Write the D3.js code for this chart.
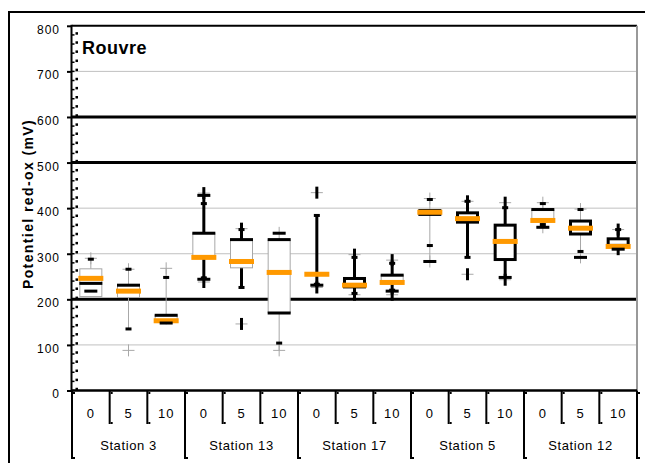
<!DOCTYPE html>
<html><head><meta charset="utf-8">
<script src="https://cdn.jsdelivr.net/npm/d3@7"></script>
<style>
html,body{margin:0;padding:0;background:#fff;}
svg{display:block;font-family:Arial,"Liberation Sans",sans-serif;}
</style></head><body>
<svg id="chart" width="645" height="463"></svg>
<script>
// ---- data ----
const stations = ["Station 3", "Station 13", "Station 17", "Station 5", "Station 12"];
const depths = ["0", "5", "10"];
const yTicks = [0, 100, 200, 300, 400, 500, 600, 700, 800];
const chartTitle = "Rouvre";
const yTitle = "Potentiel red-ox (mV)";

// one value per station × depth (station-major order)
const medians     = [246, 218, 153, 292, 283, 259, 255, 231, 237, 391, 377, 327, 373, 356, 316];
const q1          = [205, 203, 148, 289, 268, 170, 251, 224, 236, 383, 366, 284, 372, 340, 315];
const q3          = [268, 231, 165, 345, 331, 331, 259, 249, 253, 398, 393, 366, 397, 375, 336];
const whiskerLow  = [205, 135, 145, 245, 226,  88, 226, 213, 210, 283, 292, 248, 358, 292, 310];
const whiskerHigh = [290, 266, 268, 428, 355, 359, 387, 292, 286, 421, 415, 401, 410, 398, 353];

// marker series, one list per station × depth
const barMarks = [[235], [231], [165], [345], [331], [331, 170], [], [], [253], [], [], [], [397], [], []];
const outerMarks = [[218], [], [148], [428, 244], [], [345], [231], [], [218], [283], [], [248], [358], [292], [310]];
const innerMarks = [[288], [266, 135], [248], [410, 247], [353, 226], [104], [384, 233], [292, 213],
                    [279, 220], [419, 318], [415, 292], [401], [410, 364], [397, 305], [353]];
const extremes = [[290], [266, 88], [268], [433, 238], [355, 146], [88], [434, 226], [298, 210],
                  [286, 210], [421, 283], [415, 255], [412, 243], [412, 358], [398, 292], [353, 310]];

// ---- layout ----
const svg = d3.select("#chart");
const pL = 72, pR = 637, pT = 25.8, pB = 390.5;
const keys = stations.flatMap(s => depths.map(d => s + "|" + d));
const x = d3.scaleBand().domain(keys).range([pL, pR]);
const y = d3.scaleLinear().domain([0, 800]).range([pB, pT]);
const bw = x.bandwidth();
const cx = i => x(keys[i]) + bw / 2;

const heavyLines = new Set([200, 500, 600]);
const heavyWhisker = new Set([3, 4, 6, 7, 8, 10, 11, 14]);
const heavyBox = new Set([7, 9, 10, 11, 13, 14]);
const GREY = "#a8a8a8", ORANGE = "#ff9900";

// outer frame
svg.append("rect").attr("x", 9).attr("y", 12).attr("width", 700).attr("height", 500)
  .attr("fill", "#fff").attr("stroke", "#000").attr("stroke-width", 2);

// gridlines
svg.append("g").selectAll("line").data(yTicks.filter(v => v > 0 && v < 800)).join("line")
  .attr("x1", pL).attr("x2", pR)
  .attr("y1", d => y(d)).attr("y2", d => y(d))
  .attr("stroke", d => heavyLines.has(d) ? "#000" : "#c0c0c0")
  .attr("stroke-width", d => heavyLines.has(d) ? 3 : 1);

// plot frame
svg.append("line").attr("x1", pL).attr("x2", pR).attr("y1", pT).attr("y2", pT)
  .attr("stroke", "#000").attr("stroke-width", 2);
svg.append("line").attr("x1", pR).attr("x2", pR).attr("y1", pT).attr("y2", pB)
  .attr("stroke", "#999").attr("stroke-width", 2);

const idx = d3.range(keys.length);

// whiskers
svg.append("g").selectAll("line").data(idx).join("line")
  .attr("x1", cx).attr("x2", cx)
  .attr("y1", i => y(whiskerLow[i])).attr("y2", i => y(whiskerHigh[i]))
  .attr("stroke", i => heavyWhisker.has(i) ? "#000" : GREY)
  .attr("stroke-width", i => heavyWhisker.has(i) ? 3 : 1);

// extreme values as crosses
const crosses = idx.flatMap(i => extremes[i].map(v => ({ i, v })));
const cg = svg.append("g");
cg.selectAll("line.h").data(crosses).join("line").attr("class", "h")
  .attr("x1", d => cx(d.i) - 6).attr("x2", d => cx(d.i) + 6)
  .attr("y1", d => y(d.v)).attr("y2", d => y(d.v))
  .attr("stroke", GREY).attr("stroke-width", 1);
cg.selectAll("line.v").data(crosses).join("line").attr("class", "v")
  .attr("x1", d => cx(d.i)).attr("x2", d => cx(d.i))
  .attr("y1", d => y(d.v) - 6).attr("y2", d => y(d.v) + 6)
  .attr("stroke", d => heavyWhisker.has(d.i) ? "#000" : GREY)
  .attr("stroke-width", d => heavyWhisker.has(d.i) ? 3 : 1);

// boxes
svg.append("g").selectAll("rect").data(idx).join("rect")
  .attr("x", i => cx(i) - 11.5 + (heavyBox.has(i) ? 1.5 : 0.5))
  .attr("width", i => heavyBox.has(i) ? 20 : 22)
  .attr("y", i => y(q3[i]) + (heavyBox.has(i) ? 1.5 : 0.5))
  .attr("height", i => Math.max(0, y(q1[i]) - y(q3[i]) - (heavyBox.has(i) ? 3 : 1)))
  .attr("fill", "#fff")
  .attr("stroke", i => heavyBox.has(i) ? "#000" : GREY)
  .attr("stroke-width", i => heavyBox.has(i) ? 3 : 1);

// medians
svg.append("g").selectAll("rect").data(idx).join("rect")
  .attr("x", i => cx(i) - 12.5).attr("width", 25)
  .attr("y", i => y(medians[i]) - 2.5).attr("height", 5)
  .attr("fill", ORANGE);

// black dash markers
function dashes(series, w) {
  const pts = idx.flatMap(i => series[i].map(v => ({ i, v })));
  svg.append("g").selectAll("rect").data(pts).join("rect")
    .attr("x", d => cx(d.i) - w / 2).attr("width", w)
    .attr("y", d => y(d.v) - 1.5).attr("height", 3)
    .attr("fill", "#000");
}
dashes(barMarks, 23);
dashes(outerMarks, 13);
dashes(innerMarks, 6);

// value axis
const yAxis = d3.axisLeft(y).tickValues(yTicks).tickSize(5).tickPadding(7);
const ga = svg.append("g").attr("transform", `translate(${pL},0)`).call(yAxis)
  .attr("font-family", null).attr("font-size", null);
ga.select(".domain").remove();
ga.selectAll(".tick line").attr("stroke", "#000").attr("stroke-width", 2);
ga.selectAll(".tick text").attr("font-size", 12).attr("letter-spacing", 1)
  .attr("fill", "#000").attr("dy", "0.62em");
svg.append("line").attr("x1", pL - 0.5).attr("x2", pL - 0.5).attr("y1", pT - 1).attr("y2", pB + 1)
  .attr("stroke", "#000").attr("stroke-width", 2);
// minor ticks and dotted inner rule
const minor = d3.range(0, 800, 20);
svg.append("g").selectAll("line").data(minor).join("line")
  .attr("x1", pL).attr("x2", pL + 2.5).attr("y1", d => y(d)).attr("y2", d => y(d))
  .attr("stroke", "#000").attr("stroke-width", 1.5);
svg.append("g").selectAll("rect").data(minor).join("rect")
  .attr("x", pL + 3.5).attr("y", d => y(d + 6)).attr("width", 2.5).attr("height", 2.5)
  .attr("fill", "#000");

// category axis
svg.append("line").attr("x1", pL - 1).attr("x2", pR).attr("y1", pB).attr("y2", pB)
  .attr("stroke", "#000").attr("stroke-width", 2.5);
const bounds = d3.range(keys.length + 1);
const bx = k => pL + k * bw;
const tickEnd = k => k % depths.length === 0 ? 459 : 424;
const xa = svg.append("g");
xa.selectAll("line").data(bounds).join("line")
  .attr("x1", bx).attr("x2", bx).attr("y1", pB).attr("y2", tickEnd)
  .attr("stroke", "#000").attr("stroke-width", 2);
xa.selectAll("rect.t").data(bounds).join("rect").attr("class", "t")
  .attr("x", k => bx(k) + 1).attr("y", pB + 1.5).attr("width", 2).attr("height", 2).attr("fill", "#000");
xa.selectAll("rect.b").data(bounds).join("rect").attr("class", "b")
  .attr("x", k => bx(k) + 1).attr("y", k => tickEnd(k) - 2).attr("width", 2).attr("height", 2).attr("fill", "#000");

svg.append("g").selectAll("text").data(idx).join("text")
  .attr("x", cx).attr("y", 418).attr("text-anchor", "middle")
  .attr("font-size", 13).attr("letter-spacing", 1)
  .text(i => keys[i].split("|")[1]);
svg.append("g").selectAll("text").data(stations).join("text")
  .attr("x", (s, j) => bx(j * 3) + bw * 1.5).attr("y", 450).attr("text-anchor", "middle")
  .attr("font-size", 13).attr("letter-spacing", 0.6)
  .text(s => s);

// titles
svg.append("text").attr("x", 82).attr("y", 53.5).attr("font-size", 18).attr("font-weight", "bold")
  .attr("letter-spacing", 0.5).text(chartTitle);
svg.append("text").attr("transform", "translate(32.5,204) rotate(-90)").attr("text-anchor", "middle")
  .attr("font-size", 14).attr("font-weight", "bold").attr("letter-spacing", 1.4).text(yTitle);
</script>
</body></html>
